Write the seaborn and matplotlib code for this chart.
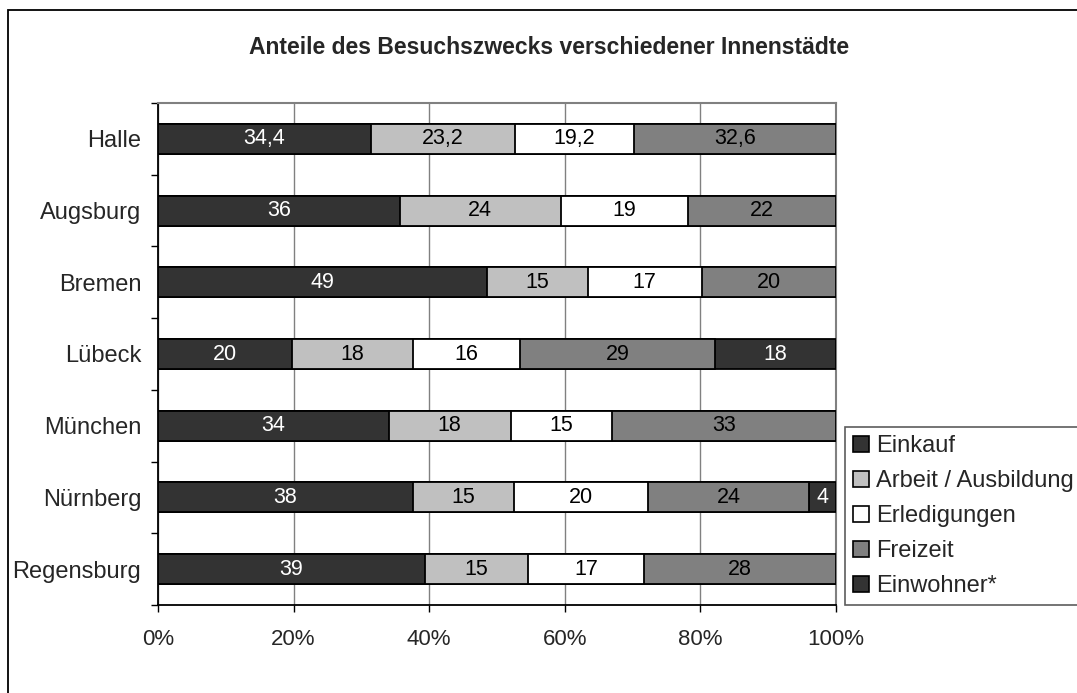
import numpy as np
import pandas as pd
import matplotlib
matplotlib.use("Agg")
import matplotlib.pyplot as plt
from matplotlib.patches import Patch, Rectangle
import seaborn as sns

# data
cities = ["Halle", "Augsburg", "Bremen", "Lübeck", "München", "Nürnberg", "Regensburg"]
einkauf = [34.4, 36, 49, 20, 34, 38, 39]
arbeit = [23.2, 24, 15, 18, 18, 15, 15]
erledigungen = [19.2, 19, 17, 16, 15, 20, 17]
freizeit = [32.6, 22, 20, 29, 33, 24, 28]
einwohner = [0, 0, 0, 18, 0, 4, 0]

series = ["Einkauf", "Arbeit / Ausbildung", "Erledigungen", "Freizeit", "Einwohner*"]
colors = ["#333333", "#c0c0c0", "#ffffff", "#808080", "#333333"]
text_colors = ["white", "black", "black", "black", "white"]

df = pd.DataFrame({
    "Einkauf": einkauf,
    "Arbeit / Ausbildung": arbeit,
    "Erledigungen": erledigungen,
    "Freizeit": freizeit,
    "Einwohner*": einwohner,
}, index=cities)

# 100% stacked: share of row total
share = df.div(df.sum(axis=1), axis=0) * 100
cum = share.cumsum(axis=1)

sns.set_theme(style="white")
plt.rcParams["font.family"] = ["Liberation Sans", "DejaVu Sans"]

fig = plt.figure(figsize=(10.77, 6.93), dpi=100)
ax = fig.add_axes([158 / 1077, 1 - 605 / 693, (836 - 158) / 1077, (605 - 103) / 693])

# draw the cumulative layers from the longest to the shortest so they stack
for i in reversed(range(len(series))):
    plot_df = pd.DataFrame({"city": cities, "val": cum[series[i]].values})
    sns.barplot(data=plot_df, x="val", y="city", orient="h", order=cities,
                color=colors[i], saturation=1, edgecolor="black", linewidth=1.3,
                width=0.42, ax=ax, zorder=3)

# value labels
for r, city in enumerate(cities):
    for i, s in enumerate(series):
        v = df.loc[city, s]
        if v == 0:
            continue
        center = cum.loc[city, s] - share.loc[city, s] / 2
        txt = f"{v:g}".replace(".", ",")
        ax.text(center, r, txt, ha="center", va="center", fontsize=15.5,
                color=text_colors[i], zorder=5)

ax.set_xlim(0, 100)
ax.set_ylim(len(cities) - 0.5, -0.5)
ax.set_xticks(np.arange(0, 101, 20))
ax.set_xticklabels([f"{t}%" for t in range(0, 101, 20)], fontsize=16)
ax.set_xlabel("")
ax.set_ylabel("")
ax.tick_params(axis="y", which="major", length=0, pad=12, labelsize=17)
ax.set_yticks(np.arange(-0.5, len(cities)), minor=True)
ax.tick_params(axis="y", which="minor", length=5, width=1, color="black", direction="out", left=True)
ax.tick_params(axis="x", which="major", length=5, width=1, color="black", direction="out",
               bottom=True, pad=12)

ax.grid(axis="x", color="#808080", linewidth=1, zorder=0)
ax.grid(axis="y", visible=False)
ax.set_axisbelow(True)
for side in ["top", "right"]:
    ax.spines[side].set_color("#808080")
    ax.spines[side].set_linewidth(1.5)
for side in ["left", "bottom"]:
    ax.spines[side].set_color("black")
    ax.spines[side].set_linewidth(1.3)

fig.text(549 / 1077, 1 - 48 / 693, "Anteile des Besuchszwecks verschiedener Innenstädte",
         ha="center", va="center", fontsize=16.5, fontweight="bold")

handles = [Patch(facecolor=c, edgecolor="black", linewidth=1.2) for c in colors]
leg = fig.legend(handles, series, loc="upper left", bbox_to_anchor=(845 / 1077, 1 - 427 / 693),
                 frameon=True, fancybox=False, shadow=False, fontsize=17,
                 handlelength=0.65, handleheight=0.65, handletextpad=0.3,
                 labelspacing=0.55, borderpad=0.35, borderaxespad=0)
leg.get_frame().set_edgecolor("#333333")
leg.get_frame().set_linewidth(1.2)

# outer chart frame (runs off the right and bottom edges like in the reference)
fig.patches.append(Rectangle((8 / 1077, -0.1), 1.2, 1.1 - 10 / 693, transform=fig.transFigure,
                             fill=False, edgecolor="black", linewidth=1.3, zorder=-1))

fig.savefig("out.png", dpi=100)
